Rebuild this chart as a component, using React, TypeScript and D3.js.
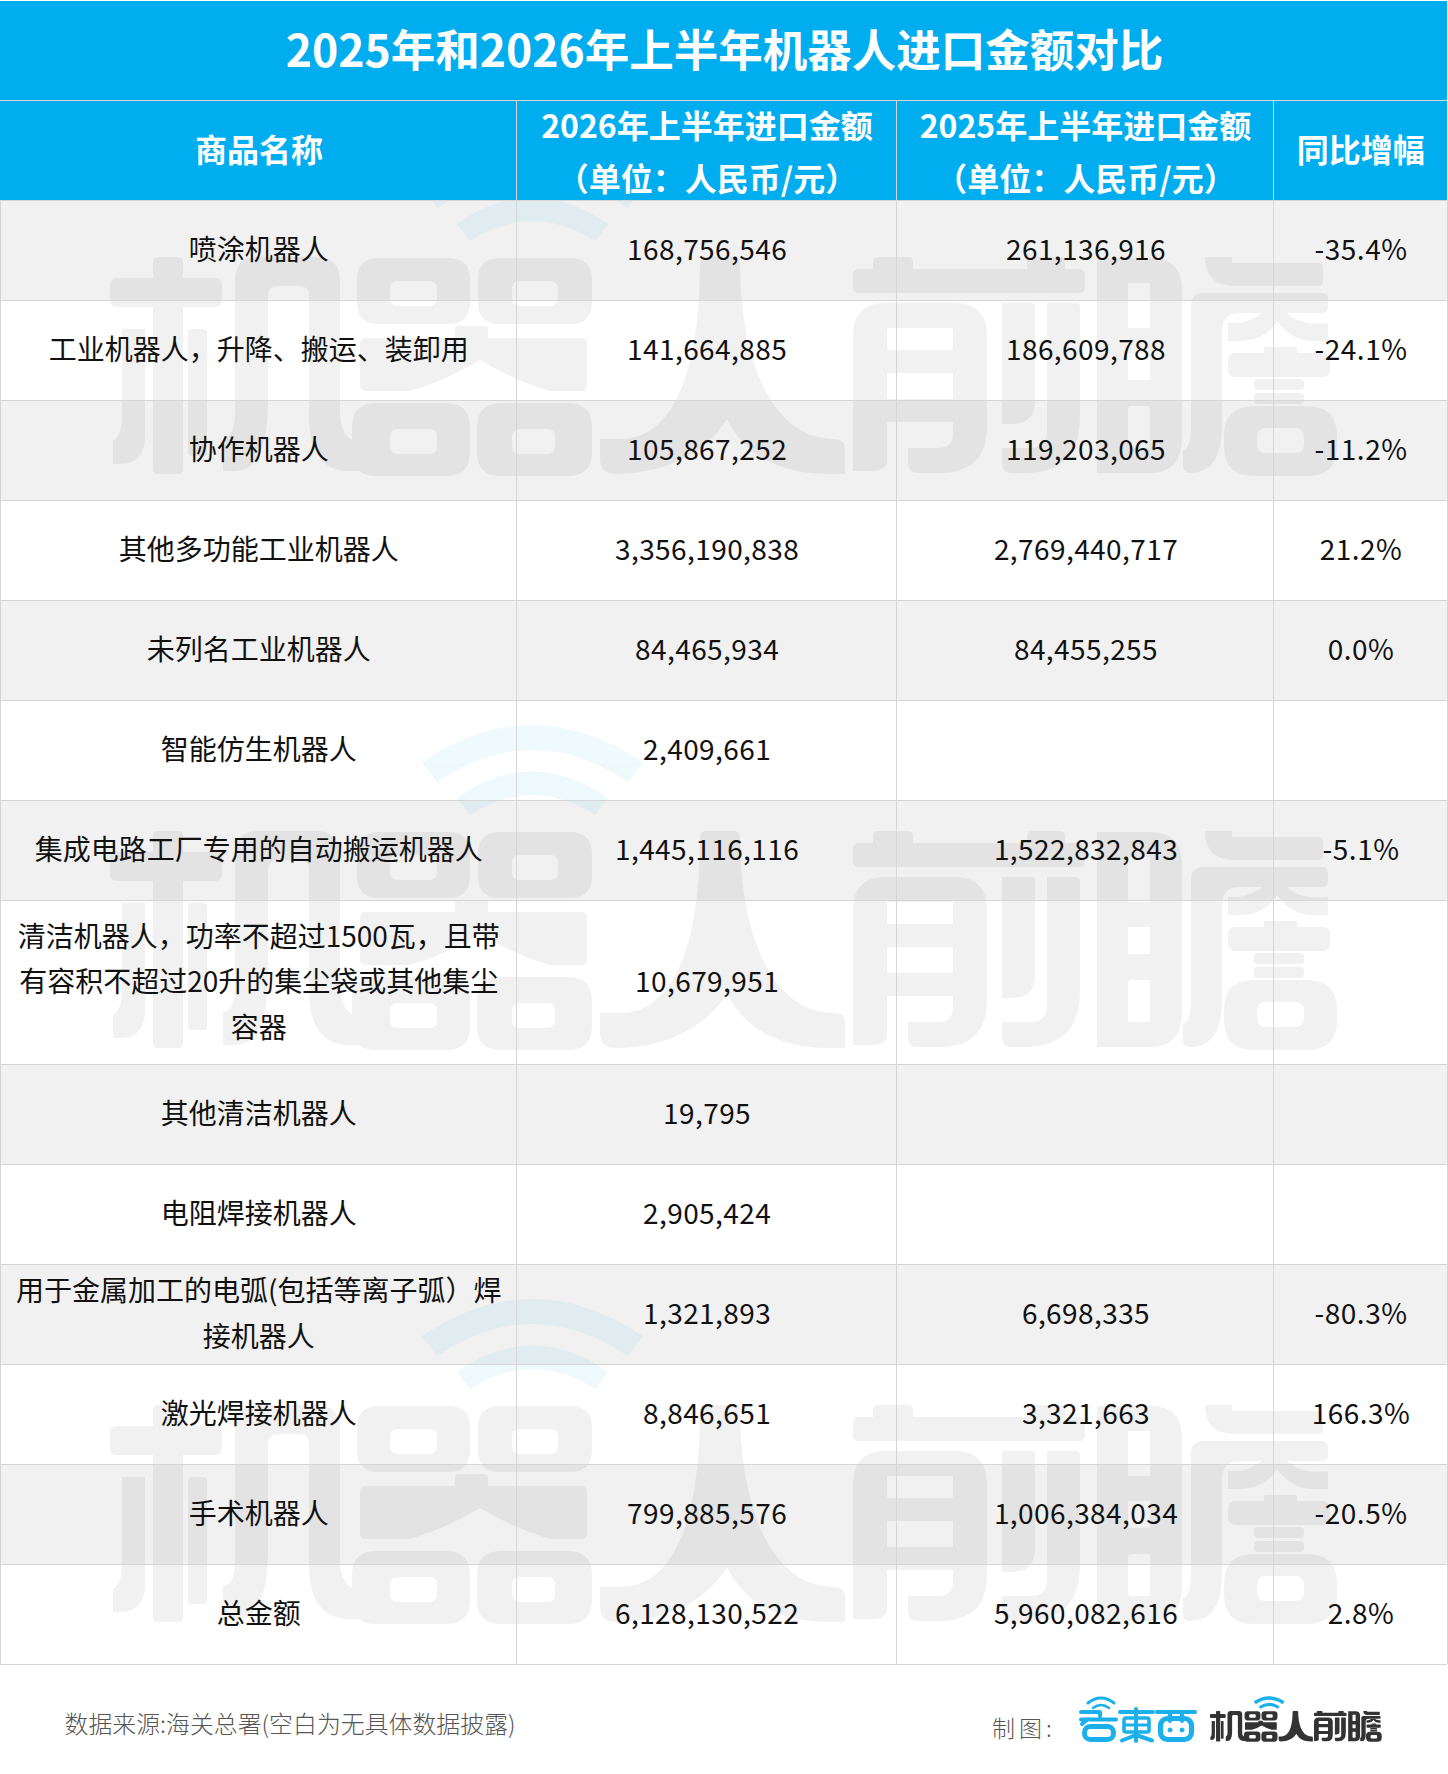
import React from "react";
import * as d3 from "d3";

const titleText = "2025年和2026年上半年机器人进口金额对比";
const headerLabels = [
  ["商品名称"],
  ["2026年上半年进口金额", "（单位：人民币/元）"],
  ["2025年上半年进口金额", "（单位：人民币/元）"],
  ["同比增幅"],
];
const products = [
  ["喷涂机器人"],
  ["工业机器人，升降、搬运、装卸用"],
  ["协作机器人"],
  ["其他多功能工业机器人"],
  ["未列名工业机器人"],
  ["智能仿生机器人"],
  ["集成电路工厂专用的自动搬运机器人"],
  ["清洁机器人，功率不超过1500瓦，且带", "有容积不超过20升的集尘袋或其他集尘", "容器"],
  ["其他清洁机器人"],
  ["电阻焊接机器人"],
  ["用于金属加工的电弧(包括等离子弧）焊", "接机器人"],
  ["激光焊接机器人"],
  ["手术机器人"],
  ["总金额"],
];
const amounts2026 = [168756546, 141664885, 105867252, 3356190838, 84465934, 2409661, 1445116116, 10679951, 19795, 2905424, 1321893, 8846651, 799885576, 6128130522];
const amounts2025 = [261136916, 186609788, 119203065, 2769440717, 84455255, null, 1522832843, null, null, null, 6698335, 3321663, 1006384034, 5960082616];
const growth = ["-35.4%", "-24.1%", "-11.2%", "21.2%", "0.0%", "", "-5.1%", "", "", "", "-80.3%", "166.3%", "-20.5%", "2.8%"];
const sourceText = "数据来源:海关总署(空白为无具体数据披露)";
const creditText = "制图:";
const watermarkOffsets = [-574, 0, 574];

const WIDTH = 1448;
const HEIGHT = 1774;
const FONT = '"Noto Sans CJK SC", "Noto Sans", sans-serif';
const BLUE = "#00aeef";
const LINE = "#d6d6d6";
const TITLE_H = 100;
const HEADER_H = 100;
const TOP = TITLE_H + HEADER_H;
const BASE_ROW = 100;
const TALL_ROW = 164;

const colEdges = [0.5, 516.5, 896.5, 1273.5, 1447];
const rowHeights = products.map((p) => (p.length > 2 ? TALL_ROW : BASE_ROW));
const rowEdges = [TOP, ...Array.from(d3.cumsum(rowHeights), (h) => TOP + h)];
const rowY = d3.scaleOrdinal<number, number>().domain(d3.range(products.length + 1)).range(rowEdges);
const colX = d3.scaleOrdinal<number, number>().domain(d3.range(5)).range(colEdges);
const colC = (i: number) => (colX(i) + colX(i + 1)) / 2;
const fmt = d3.format(",");

function rr(x0: number, y0: number, x1: number, y1: number, r: number) {
  const p = d3.path();
  p.moveTo(x0 + r, y0);
  p.lineTo(x1 - r, y0);
  p.quadraticCurveTo(x1, y0, x1, y0 + r);
  p.lineTo(x1, y1 - r);
  p.quadraticCurveTo(x1, y1, x1 - r, y1);
  p.lineTo(x0 + r, y1);
  p.quadraticCurveTo(x0, y1, x0, y1 - r);
  p.lineTo(x0, y0 + r);
  p.quadraticCurveTo(x0, y0, x0 + r, y0);
  p.closePath();
  return p.toString();
}

// Brand glyphs "机器人前瞻", traced in page coordinates of the middle watermark
const brandGlyphs = [
  // 机
  rr(110, 852, 222, 881, 7),
  rr(153, 831, 183, 1048, 5),
  "M122,903H145V1010Q145,1038 120,1038H113V1015Q122,1010 122,990Z",
  rr(188, 903, 207, 1030, 4),
  "M235,855Q235,831 259,831H316Q340,831 340,855V985Q340,1016 362,1016V1045H350Q309,1045 309,990V870Q309,860 299,860H278Q268,860 268,870V975Q268,1045 235,1045H223V1012Q235,1012 235,985Z",
  // 器
  rr(357, 832, 470, 898, 22) + rr(390, 855, 437, 880, 8),
  rr(478, 832, 592, 898, 22) + rr(512, 855, 558, 880, 8),
  rr(455, 900, 488, 920, 3),
  "M360,918Q360,912 366,912H581Q587,912 587,918V959Q587,965 581,965H550Q515,955 480,934Q445,955 410,965H366Q360,965 360,959Z",
  rr(352, 977, 470, 1050, 24) + rr(390, 1003, 437, 1028, 8),
  rr(477, 977, 592, 1050, 24) + rr(512, 1003, 555, 1028, 8),
  // 人
  "M700,837Q700,831 706,831H734Q740,831 740,837C740,920 765,1013 835,1013Q845,1013 845,1023V1048H830C780,1048 745,1030 727,993C705,1030 660,1048 615,1048Q600,1048 600,1032V1013H620C680,1013 700,930 700,837Z",
  // 前
  rr(873, 831, 913, 850, 5),
  rr(1027, 831, 1065, 850, 5),
  rr(853, 843, 1085, 867, 6),
  "M853,910Q853,877 886,877H954Q987,877 987,910V1000Q987,1047 940,1047H918Q908,1047 908,1037V1022H938Q953,1022 953,1007V996H887V1035Q887,1045 870,1045H853Z" +
    rr(887, 902, 953, 924, 2) +
    rr(887, 947, 953, 973, 1),
  "M1002,877H1031Q1035,877 1035,881V975Q1035,998 1012,998H1002Z",
  "M1047,877H1076Q1080,877 1080,881V990Q1080,1047 1025,1047H1012Q1002,1047 1002,1037V1022H1030Q1047,1022 1047,1005Z",
  // 瞻
  "M1097,832H1150Q1182,832 1182,864V1012Q1182,1047 1150,1047H1097Z" +
    rr(1128, 857, 1150, 902, 1) +
    rr(1128, 927, 1150, 954, 1) +
    rr(1128, 980, 1150, 1022, 3),
  "M1205,831H1232V837H1318Q1323,837 1323,842V855Q1323,860 1318,860H1235Q1205,860 1205,831Z",
  "M1191,880Q1191,867 1204,867H1322Q1328,867 1328,873V881Q1328,887 1322,887H1240Q1222,887 1222,905V1000Q1222,1047 1190,1047Q1183,1047 1183,1040V1024Q1191,1022 1191,1000Z",
  "M1228,897H1238Q1252,895 1262,887H1287Q1300,900 1328,897V915H1312Q1292,915 1277,895Q1265,915 1240,915H1228Z",
  rr(1264, 921, 1297, 930, 2),
  rr(1228, 927, 1330, 951, 8),
  rr(1254, 953, 1304, 964, 4),
  rr(1254, 967, 1304, 978, 4),
  rr(1224, 980, 1337, 1050, 30) + rr(1257, 1002, 1304, 1027, 9),
];

// wifi arcs above the 器 glyph
const brandArcs = [
  "M422,762Q532,688 643,762L628,782Q532,718 437,782Z",
  "M457,798Q532,745 608,798L595,815Q532,775 470,815Z",
];

function Brand({ ink, arc, inkOpacity = 1, arcOpacity = 1 }: { ink: string; arc: string; inkOpacity?: number; arcOpacity?: number }) {
  return (
    <>
      <g fill={arc} opacity={arcOpacity}>
        {brandArcs.map((d, i) => <path key={i} d={d} />)}
      </g>
      <g fill={ink} opacity={inkOpacity} fillRule="evenodd">
        {brandGlyphs.map((d, i) => <path key={i} d={d} />)}
      </g>
    </>
  );
}

function ZhidxLogo() {
  const c = "#1cb0ea";
  return (
    <g fill="none" stroke={c} strokeLinecap="round" strokeLinejoin="round">
      <path d="M1088,1703Q1101,1693 1114,1703" strokeWidth={3} />
      <path d="M1093,1708Q1101,1702 1109,1708" strokeWidth={2.5} />
      {/* 智 */}
      <path d="M1081,1712H1098M1081,1719.5H1116M1100,1712V1716M1088,1719L1082,1724" strokeWidth={4} />
      <rect x={1084.5} y={1726.5} width={29} height={13} rx={6} strokeWidth={5} />
      {/* 東 */}
      <path d="M1120,1712H1153M1136,1709V1741M1136,1735L1122,1740.5M1136,1735L1152,1740.5" strokeWidth={4} />
      <rect x={1124} y={1718} width={25} height={14} rx={2} strokeWidth={3.6} />
      <path d="M1125,1725H1148" strokeWidth={3} />
      {/* 西 */}
      <path d="M1157,1712H1195" strokeWidth={4} />
      <rect x={1160.5} y={1718.5} width={31} height={21} rx={7} strokeWidth={5.2} />
      <path d="M1170,1712V1721M1182,1712V1721" strokeWidth={4} />
      <circle cx={1170} cy={1730} r={2} fill={c} strokeWidth={1} />
      <circle cx={1182} cy={1730} r={2} fill={c} strokeWidth={1} />
    </g>
  );
}

export default function App() {
  const central = { dominantBaseline: "central" as const, textAnchor: "middle" as const };
  return (
    <svg
      width={WIDTH}
      height={HEIGHT}
      viewBox={`0 0 ${WIDTH} ${HEIGHT}`}
      style={{ position: "absolute", left: 0, top: 0, display: "block", background: "#fff" }}
      fontFamily={FONT}
    >
      <rect width={WIDTH} height={HEIGHT} fill="#fff" />

      {/* striped rows */}
      {products.map((_, i) => {
        const shaded = [0, 2, 4, 6, 8, 10, 12].includes(i);
        return shaded ? (
          <rect key={i} x={0} y={rowY(i)} width={colX(4)} height={rowY(i + 1) - rowY(i)} fill="#f1f1f1" />
        ) : null;
      })}

      {/* watermarks */}
      {watermarkOffsets.map((dy) => (
        <g key={dy} transform={`translate(0,${dy})`}>
          <Brand ink="#000" arc={BLUE} inkOpacity={0.05} arcOpacity={0.065} />
        </g>
      ))}

      {/* title + header band */}
      <rect x={0} y={0} width={colX(4)} height={TOP} fill={BLUE} />
      <text x={724.5} y={47} {...central} fontSize={44.5} fontWeight={700} fill="#fff">{titleText}</text>
      {headerLabels.map((lines, c) =>
        lines.map((t, l) => (
          <text
            key={`${c}-${l}`}
            x={colC(c) + 0.5}
            y={lines.length === 1 ? TITLE_H + 47.5 : TITLE_H + 50 + (l - 0.5) * 53}
            {...central}
            fontSize={32}
            fontWeight={700}
            fill="#fff"
          >
            {t}
          </text>
        ))
      )}

      {/* grid */}
      <g stroke={LINE} strokeWidth={1} fill="none" shapeRendering="crispEdges">
        <line x1={0} x2={colX(4)} y1={0.5} y2={0.5} stroke="#fff" />
        <line x1={0} x2={colX(4)} y1={TITLE_H + 0.5} y2={TITLE_H + 0.5} />
        {d3.range(products.length + 1).map((i) => (
          <line key={i} x1={0} x2={colX(4)} y1={rowY(i) + 0.5} y2={rowY(i) + 0.5} />
        ))}
        {d3.range(5).map((c) => (
          <line
            key={c}
            x1={colX(c)}
            x2={colX(c)}
            y1={c === 0 || c === 4 ? TOP : TITLE_H}
            y2={rowY(products.length)}
          />
        ))}
      </g>

      {/* cells */}
      {products.map((lines, i) => {
        const cy = (rowY(i) + rowY(i + 1)) / 2 - 2;
        const a = amounts2026[i];
        const b = amounts2025[i];
        return (
          <g key={i} fontSize={28} fill="#111" {...central}>
            {lines.map((t, l) => (
              <text key={l} x={colC(0) + 0.3} y={cy + (l - (lines.length - 1) / 2) * 45.5}>{t}</text>
            ))}
            <text x={colC(1) + 0.6} y={cy} letterSpacing={0.42}>{fmt(a)}</text>
            {b != null && <text x={colC(2) + 1} y={cy} letterSpacing={0.42}>{fmt(b)}</text>}
            {growth[i] && <text x={colC(3) + 0.8} y={cy} letterSpacing={0.5}>{growth[i]}</text>}
          </g>
        );
      })}

      {/* footer */}
      <text x={64.5} y={1722} dominantBaseline="central" fontSize={23.9} fontWeight={300} fill="#555">{sourceText}</text>
      <text x={992} y={1727} dominantBaseline="central" fontSize={23} fontWeight={300} letterSpacing={4} fill="#555">{creditText}</text>
      <ZhidxLogo />
      <g transform="translate(1210,1711) scale(0.14) translate(-110,-831)">
        <Brand ink="#333" arc="#1cb0ea" />
      </g>
    </svg>
  );
}
